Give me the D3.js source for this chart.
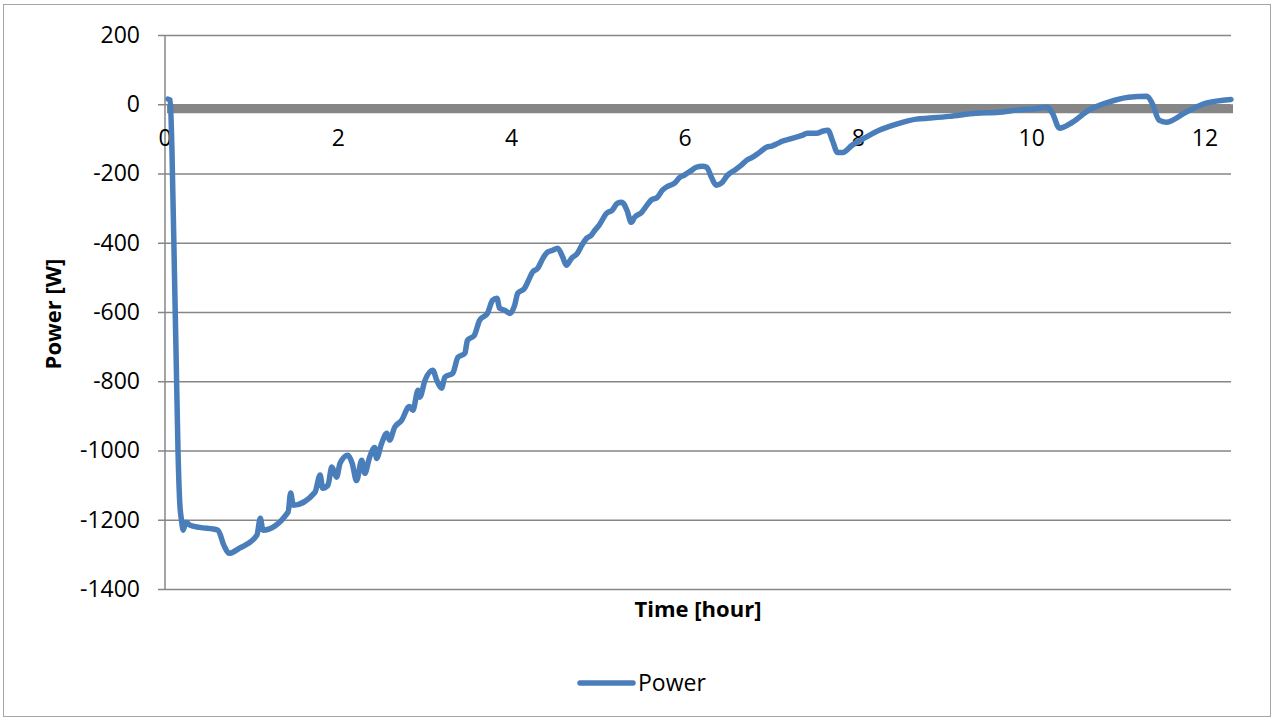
<!DOCTYPE html>
<html><head><meta charset="utf-8">
<script src="https://cdnjs.cloudflare.com/ajax/libs/d3/7.8.5/d3.min.js"></script>
<style>body{margin:0;background:#fff}svg{display:block}text{font-family:"Open Sans","Noto Sans",sans-serif}</style>
</head><body>
<script>
const hours = [0.035,0.06,0.08,0.11,0.13,0.15,0.17,0.19,0.21,0.24,0.29,0.40,0.61,0.68,0.74,0.86,1.06,1.10,1.13,1.42,1.45,1.48,1.73,1.79,1.82,1.88,1.925,1.98,2.02,2.11,2.16,2.21,2.27,2.305,2.36,2.42,2.44,2.50,2.56,2.59,2.65,2.73,2.82,2.86,2.92,2.94,3.00,3.09,3.135,3.19,3.23,3.32,3.38,3.46,3.49,3.57,3.63,3.72,3.78,3.83,3.86,3.92,3.98,4.035,4.07,4.15,4.21,4.24,4.30,4.36,4.415,4.47,4.53,4.59,4.63,4.69,4.76,4.81,4.865,4.92,4.96,5.01,5.095,5.16,5.22,5.27,5.33,5.38,5.42,5.50,5.56,5.61,5.68,5.74,5.80,5.88,5.94,5.99,6.075,6.13,6.20,6.25,6.305,6.36,6.42,6.49,6.57,6.65,6.71,6.78,6.86,6.94,7.00,7.07,7.12,7.205,7.285,7.35,7.41,7.52,7.585,7.65,7.70,7.76,7.82,7.93,8.09,8.24,8.36,8.47,8.67,8.82,9.05,9.36,9.625,9.82,10.01,10.18,10.24,10.32,10.47,10.66,10.89,11.12,11.33,11.39,11.47,11.55,11.78,12.01,12.30];
const power = [15,12,-130,-500,-750,-1000,-1150,-1200,-1230,-1207,-1216,-1222,-1230,-1274,-1297,-1282,-1245,-1196,-1230,-1178,-1123,-1158,-1121,-1071,-1109,-1100,-1048,-1077,-1037,-1014,-1037,-1087,-1028,-1066,-1020,-991,-1023,-979,-950,-970,-933,-913,-873,-884,-826,-846,-797,-768,-797,-820,-788,-777,-731,-719,-682,-667,-624,-604,-566,-560,-589,-595,-604,-580,-546,-531,-500,-485,-474,-445,-427,-422,-416,-442,-465,-445,-430,-407,-387,-378,-364,-349,-315,-306,-286,-283,-306,-341,-326,-312,-292,-277,-269,-248,-237,-228,-211,-205,-191,-182,-179,-182,-211,-234,-228,-205,-191,-176,-162,-153,-139,-124,-121,-113,-107,-101,-95,-90,-84,-84,-78,-75,-104,-139,-139,-118,-95,-75,-64,-55,-43,-40,-35,-26,-23,-17,-14,-9,-26,-69,-52,-17,6,20,23,3,-46,-52,-23,3,14];
const xTicks = [0,2,4,6,8,10,12];
const yTicks = [200,0,-200,-400,-600,-800,-1000,-1200,-1400];
const seriesName = "Power";
const xTitle = "Time [hour]";
const yTitle = "Power [W]";

const W = 1274, H = 720;
const svg = d3.select("body").append("svg").attr("width", W).attr("height", H);
svg.append("rect").attr("x",3.5).attr("y",4.5).attr("width",W-7).attr("height",H-8)
  .attr("fill","#fff").attr("stroke","#a6a6a6").attr("stroke-width",1);

const L = 165, R = 1231, T = 35, B = 589;
const x = d3.scaleLinear().domain([0, 12.3]).range([L, R]);
const y = d3.scaleLinear().domain([-1400, 200]).range([B, T]);

// gridlines with tick stubs
const yAxis = d3.axisLeft(y).tickValues(yTicks).tickSize(-(R - L + 7)).tickPadding(18)
  .tickFormat(d => d);
const gy = svg.append("g").attr("transform", `translate(${L-7},0)`).call(yAxis);
gy.select(".domain").remove();
gy.selectAll(".tick line").attr("stroke","#868686").attr("stroke-width",1.5);
gy.selectAll(".tick text").attr("font-size",23).attr("fill","#000").attr("font-family",null);

// y axis line
svg.append("line").attr("x1",L).attr("x2",L).attr("y1",T).attr("y2",B)
  .attr("stroke","#868686").attr("stroke-width",1.5);

// thick horizontal axis at zero
svg.append("rect").attr("x",L+2).attr("y",y(0)).attr("width",x(12.3)-L).attr("height",9)
  .attr("fill","#868686");

// x tick labels
svg.append("g").selectAll("text").data(xTicks).join("text")
  .attr("x", d => x(d)).attr("y", y(0) + 34).attr("dy","0.35em")
  .attr("text-anchor","middle").attr("font-size",23).attr("fill","#000").text(d => d);

// line
const data = hours.map((h,i) => [h, power[i]]);
svg.append("path").datum(data)
  .attr("d", d3.line().curve(d3.curveMonotoneX).x(d => x(d[0])).y(d => y(d[1])))
  .attr("fill","none").attr("stroke","#4a7ebb").attr("stroke-width",5.5)
  .attr("stroke-linejoin","round").attr("stroke-linecap","round");

// titles
svg.append("text").attr("x",698).attr("y",617).attr("text-anchor","middle")
  .attr("font-size",22).attr("font-weight","bold").text(xTitle);
svg.append("text").attr("transform","translate(61,314) rotate(-90)").attr("text-anchor","middle")
  .attr("font-size",22).attr("font-weight","bold").text(yTitle);

// legend
svg.append("line").attr("x1",580).attr("x2",633).attr("y1",683).attr("y2",683)
  .attr("stroke","#4a7ebb").attr("stroke-width",5.5).attr("stroke-linecap","round");
svg.append("text").attr("x",638).attr("y",691).attr("font-size",23).text(seriesName);
</script>
</body></html>
